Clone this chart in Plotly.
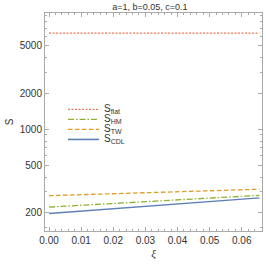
import plotly.graph_objects as go

xi = [0.0, 0.01, 0.02, 0.03, 0.04, 0.05, 0.06, 0.0655]
s_flat = [6400, 6400, 6400, 6400, 6400, 6400, 6400, 6400]
s_hm = [224, 232, 240, 249, 258, 267, 276, 281]
s_tw = [279, 284, 290, 295, 301, 307, 313, 316]
s_cdl = [198, 207, 217, 227, 237, 248, 260, 267]

names = ["S<sub>flat</sub>", "S<sub>HM</sub>", "S<sub>TW</sub>", "S<sub>CDL</sub>"]
colors = ["#EF7652", "#8FB032", "#E19C24", "#5E81B5"]
dashes = ["2px,1.5px", "6px,2px,1.5px,2px", "4.5px,2.5px", "solid"]
series = [s_flat, s_hm, s_tw, s_cdl]

y_ticks = [200, 500, 1000, 2000, 5000]
x_ticks = [0.0, 0.01, 0.02, 0.03, 0.04, 0.05, 0.06]
x_labels = ["0.00", "0.01", "0.02", "0.03", "0.04", "0.05", "0.06"]

y_minor = [150, 300, 400, 600, 700, 800, 900, 3000, 4000, 6000, 7000, 8000, 9000]
x_minor = [i * 0.002 for i in range(0, 34)]

fig = go.Figure()
for name, ys, col, dsh in zip(names, series, colors, dashes):
    fig.add_trace(go.Scatter(x=xi, y=ys, mode="lines", name=name, showlegend=False,
                             line=dict(color=col, width=1.3, dash=dsh)))

# legend drawn in paper coordinates
leg_y = [0.558, 0.512, 0.466, 0.420]
for name, col, dsh, ly in zip(names, colors, dashes, leg_y):
    fig.add_shape(type="line", xref="paper", yref="paper", x0=0.106, x1=0.249, y0=ly, y1=ly,
                  line=dict(color=col, width=1.6 if dsh == "solid" else 1.3, dash=dsh))
    fig.add_annotation(xref="paper", yref="paper", x=0.263, y=ly, text=name, showarrow=False,
                       xanchor="left", yanchor="middle",
                       font=dict(size=10, color="#333333", family="Liberation Sans"))

axis_common = dict(showgrid=False, zeroline=False, showline=True, linecolor="#AAAAAA",
                   linewidth=1, mirror="ticks", ticks="inside", tickcolor="#AAAAAA",
                   ticklen=4, tickfont=dict(size=10, color="#333333", family="Liberation Sans"))

fig.update_layout(
    width=266, height=268,
    margin=dict(l=45, r=4, t=13, b=37),
    paper_bgcolor="white", plot_bgcolor="white",
    title=dict(text="a=1, b=0.05, c=0.1", xref="paper", x=0.31, xanchor="left",
               yref="container", y=0.975, yanchor="middle",
               font=dict(size=9, color="#333333", family="Liberation Sans")),
    xaxis=dict(range=[-0.00125, 0.0663], tickvals=x_ticks, ticktext=x_labels,
               title=dict(text="<i>ξ</i>", font=dict(size=11, color="#333333", family="Liberation Serif"), standoff=4),
               minor=dict(tickvals=x_minor, ticks="inside", ticklen=2, tickcolor="#AAAAAA"),
               **axis_common),
    yaxis=dict(type="log", range=[2.150, 3.975], tickvals=y_ticks, ticktext=[str(v) for v in y_ticks],
               title=dict(text="S", font=dict(size=10, color="#333333", family="Liberation Sans"), standoff=4),
               minor=dict(tickvals=y_minor, ticks="inside", ticklen=2, tickcolor="#AAAAAA"),
               **axis_common),
    showlegend=False,
)

fig.write_html("out.html", config={"displayModeBar": False},
               post_script="document.body.style.margin='0';")
